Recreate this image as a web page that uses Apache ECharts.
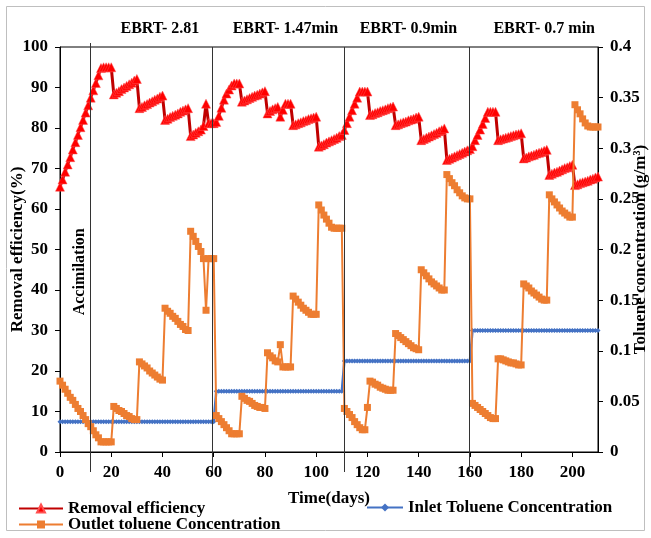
<!DOCTYPE html>
<html>
<head>
<meta charset="utf-8">
<script src="https://cdn.jsdelivr.net/npm/echarts@6/dist/echarts.min.js"></script>
<style>
  html, body { margin: 0; padding: 0; background: #fff; }
  #chart { width: 651px; height: 538px; }
</style>
</head>
<body>
<div id="chart"></div>
<script>
// removal efficiency (%), one value per day, day 0..210
const removalEff = [
  65.5, 67.3, 69.2, 71.0, 72.8, 74.7, 76.5, 78.3, 80.2, 82.0, 83.8, 85.6, 87.5, 89.3, 91.1, 93.0, 94.8, 95.0, 95.0, 95.0, 95.0,
  88.3, 88.7, 89.1, 89.6, 90.0, 90.4, 90.8, 91.2, 91.7, 92.1,
  84.9, 85.2, 85.6, 85.9, 86.3, 86.6, 87.0, 87.3, 87.7, 88.0,
  82.0, 82.3, 82.7, 83.0, 83.3, 83.6, 84.0, 84.3, 84.6, 84.9,
  78.0, 78.4, 78.8, 79.2, 79.6, 80.5, 86.0, 81.2, 81.2, 81.2,
  81.5, 83.0, 85.0, 87.0, 88.5, 89.5, 90.5, 91.0, 91.0, 91.0,
  86.5, 86.8, 87.1, 87.4, 87.7, 88.0, 88.2, 88.5, 88.8, 89.1,
  83.6, 84.2, 84.6, 84.9, 85.2, 82.8, 84.5, 86.0, 86.0, 86.0,
  80.7, 80.9, 81.2, 81.4, 81.7, 81.9, 82.2, 82.4, 82.6, 82.8,
  75.4, 75.7, 76.0, 76.4, 76.7, 77.0, 77.3, 77.6, 78.0, 78.3,
  79.5, 81.2, 82.8, 84.4, 86.0, 87.5, 89.0, 89.0, 89.0, 89.0,
  83.2, 83.4, 83.7, 83.9, 84.2, 84.4, 84.6, 84.9, 85.1, 85.3,
  80.7, 80.9, 81.2, 81.4, 81.6, 81.9, 82.1, 82.3, 82.6, 82.8,
  77.0, 77.3, 77.6, 77.9, 78.2, 78.5, 78.8, 79.2, 79.5, 79.9,
  72.1, 72.4, 72.7, 73.0, 73.3, 73.6, 73.9, 74.2, 74.5, 74.8,
  75.5, 77.0, 78.3, 79.6, 81.0, 82.5, 84.0, 84.0, 84.0, 84.0,
  77.0, 77.2, 77.4, 77.6, 77.8, 78.0, 78.2, 78.4, 78.5, 78.7,
  72.5, 72.7, 73.0, 73.2, 73.4, 73.7, 73.9, 74.1, 74.4, 74.6,
  68.4, 68.7, 69.0, 69.2, 69.5, 69.8, 70.1, 70.3, 70.6, 70.9,
  65.9, 66.1, 66.4, 66.6, 66.8, 67.0, 67.3, 67.5, 67.8, 68.0
]

// inlet toluene (g/m3), day 0..210
const inletConc = [
  0.03, 0.03, 0.03, 0.03, 0.03, 0.03, 0.03, 0.03, 0.03, 0.03, 0.03,
  0.03, 0.03, 0.03, 0.03, 0.03, 0.03, 0.03, 0.03, 0.03, 0.03,
  0.03, 0.03, 0.03, 0.03, 0.03, 0.03, 0.03, 0.03, 0.03, 0.03,
  0.03, 0.03, 0.03, 0.03, 0.03, 0.03, 0.03, 0.03, 0.03, 0.03,
  0.03, 0.03, 0.03, 0.03, 0.03, 0.03, 0.03, 0.03, 0.03, 0.03,
  0.03, 0.03, 0.03, 0.03, 0.03, 0.03, 0.03, 0.03, 0.03, 0.03,
  0.06, 0.06, 0.06, 0.06, 0.06, 0.06, 0.06, 0.06, 0.06, 0.06,
  0.06, 0.06, 0.06, 0.06, 0.06, 0.06, 0.06, 0.06, 0.06, 0.06,
  0.06, 0.06, 0.06, 0.06, 0.06, 0.06, 0.06, 0.06, 0.06, 0.06,
  0.06, 0.06, 0.06, 0.06, 0.06, 0.06, 0.06, 0.06, 0.06, 0.06,
  0.06, 0.06, 0.06, 0.06, 0.06, 0.06, 0.06, 0.06, 0.06, 0.06,
  0.09, 0.09, 0.09, 0.09, 0.09, 0.09, 0.09, 0.09, 0.09, 0.09,
  0.09, 0.09, 0.09, 0.09, 0.09, 0.09, 0.09, 0.09, 0.09, 0.09,
  0.09, 0.09, 0.09, 0.09, 0.09, 0.09, 0.09, 0.09, 0.09, 0.09,
  0.09, 0.09, 0.09, 0.09, 0.09, 0.09, 0.09, 0.09, 0.09, 0.09,
  0.09, 0.09, 0.09, 0.09, 0.09, 0.09, 0.09, 0.09, 0.09, 0.09,
  0.12, 0.12, 0.12, 0.12, 0.12, 0.12, 0.12, 0.12, 0.12, 0.12,
  0.12, 0.12, 0.12, 0.12, 0.12, 0.12, 0.12, 0.12, 0.12, 0.12,
  0.12, 0.12, 0.12, 0.12, 0.12, 0.12, 0.12, 0.12, 0.12, 0.12,
  0.12, 0.12, 0.12, 0.12, 0.12, 0.12, 0.12, 0.12, 0.12, 0.12,
  0.12, 0.12, 0.12, 0.12, 0.12, 0.12, 0.12, 0.12, 0.12, 0.12
]

// outlet toluene (g/m3), day 0..210
const outletConc = [
  0.070, 0.066, 0.062, 0.058, 0.054, 0.051, 0.047, 0.043, 0.040, 0.036, 0.032,
  0.028, 0.025, 0.021, 0.017, 0.014, 0.010, 0.010, 0.010, 0.010, 0.010,
  0.045, 0.043, 0.041, 0.040, 0.038, 0.036, 0.035, 0.033, 0.032, 0.032,
  0.089, 0.087, 0.085, 0.083, 0.080, 0.078, 0.076, 0.074, 0.072, 0.071,
  0.142, 0.139, 0.137, 0.134, 0.132, 0.129, 0.126, 0.124, 0.121, 0.120,
  0.218, 0.213, 0.208, 0.203, 0.198, 0.191, 0.140, 0.191, 0.191, 0.191,
  0.036, 0.033, 0.030, 0.027, 0.024, 0.021, 0.018, 0.018, 0.018, 0.018,
  0.055, 0.053, 0.051, 0.050, 0.048, 0.046, 0.045, 0.044, 0.044, 0.043,
  0.098, 0.095, 0.093, 0.090, 0.089, 0.106, 0.084, 0.084, 0.084, 0.084,
  0.154, 0.151, 0.148, 0.145, 0.142, 0.140, 0.138, 0.136, 0.136, 0.136,
  0.244, 0.239, 0.234, 0.230, 0.226, 0.222, 0.221, 0.221, 0.221, 0.221,
  0.043, 0.040, 0.037, 0.034, 0.030, 0.027, 0.024, 0.022, 0.022, 0.044,
  0.070, 0.069, 0.067, 0.066, 0.064, 0.063, 0.062, 0.061, 0.061, 0.061,
  0.117, 0.115, 0.113, 0.111, 0.109, 0.107, 0.105, 0.103, 0.102, 0.101,
  0.180, 0.177, 0.174, 0.171, 0.168, 0.166, 0.164, 0.162, 0.160, 0.160,
  0.274, 0.270, 0.266, 0.263, 0.259, 0.256, 0.253, 0.251, 0.250, 0.250,
  0.048, 0.046, 0.044, 0.042, 0.040, 0.038, 0.036, 0.034, 0.033, 0.033,
  0.092, 0.092, 0.091, 0.090, 0.089, 0.088, 0.088, 0.087, 0.086, 0.086,
  0.166, 0.164, 0.162, 0.159, 0.157, 0.155, 0.153, 0.151, 0.150, 0.150,
  0.254, 0.250, 0.247, 0.244, 0.241, 0.238, 0.236, 0.234, 0.232, 0.232,
  0.343, 0.338, 0.334, 0.329, 0.325, 0.322, 0.321, 0.321, 0.321, 0.321
]

// phase change days and labels
const phaseLines = [11.7, 59.3, 110.7, 159.5]
const ebrtLabels = ['EBRT- 2.81', 'EBRT- 1.47min', 'EBRT- 0.9min', 'EBRT- 0.7 min']
const ebrtDays = [39, 88, 136, 189]

const FONT = '"Liberation Serif", "Times New Roman", serif'
const txt = { fontFamily: FONT, fontWeight: 'bold', fontSize: 17, color: '#000' }

const days = removalEff.map((_, i) => i)
const pairs = (arr) => days.map((d) => [d, arr[d]])

const chart = echarts.init(document.getElementById('chart'))

const option = {
  animation: false,
  backgroundColor: '#fff',
  grid: {
    left: 60, right: 53, top: 47, bottom: 86,
    containLabel: false,
    outerBoundsMode: 'none',
    show: true, borderColor: '#000', borderWidth: 1
  },
  legend: [
    {
      data: ['Removal efficiency'], left: 18, top: 500, padding: 0,
      itemWidth: 44, itemHeight: 10, itemGap: 0, textStyle: txt
    },
    {
      data: ['Inlet Toluene Concentration'], left: 366, top: 499, padding: 0,
      itemWidth: 36, itemHeight: 10, itemGap: 0, textStyle: txt
    },
    {
      data: ['Outlet toluene Concentration'], left: 18, top: 516, padding: 0,
      itemWidth: 44, itemHeight: 10, itemGap: 0, textStyle: txt
    }
  ],
  xAxis: {
    type: 'value',
    min: 0,
    max: 210,
    interval: 20,
    name: 'Time(days)',
    nameLocation: 'middle',
    nameGap: 38,
    nameMoveOverlap: false,
    nameTextStyle: txt,
    axisLine: { lineStyle: { color: '#000' } },
    axisTick: { lineStyle: { color: '#000' }, length: 5 },
    axisLabel: { ...txt, margin: 12, showMaxLabel: false },
    splitLine: { show: false }
  },
  yAxis: [
    {
      type: 'value',
      min: 0,
      max: 100,
      interval: 10,
      name: 'Removal efficiency(%)',
      nameLocation: 'middle',
      nameRotate: 90,
      nameGap: 34,
      nameMoveOverlap: false,
      nameTextStyle: txt,
      axisLine: { show: true, lineStyle: { color: '#000' } },
      axisTick: { show: true, lineStyle: { color: '#000' }, length: 5 },
      axisLabel: { ...txt, margin: 12 },
      splitLine: { show: false }
    },
    {
      type: 'value',
      min: 0,
      max: 0.4,
      interval: 0.05,
      name: 'Toluene concentration (g/m³)',
      nameLocation: 'middle',
      nameRotate: 90,
      nameGap: 34,
      nameMoveOverlap: false,
      nameTextStyle: txt,
      axisLine: { show: true, lineStyle: { color: '#000' } },
      axisTick: { show: true, lineStyle: { color: '#000' }, length: 5 },
      axisLabel: { ...txt, margin: 12 },
      splitLine: { show: false }
    }
  ],
  series: [
    {
      name: 'Removal efficiency',
      type: 'line',
      yAxisIndex: 0,
      data: pairs(removalEff),
      symbol: 'triangle',
      symbolSize: 9,
      lineStyle: { color: '#C00000', width: 3 },
      itemStyle: { color: '#FF0000', borderColor: '#FF5050', borderWidth: 0.5 },
      z: 3
    },
    {
      name: 'Inlet Toluene Concentration',
      type: 'line',
      yAxisIndex: 1,
      data: pairs(inletConc),
      symbol: 'diamond',
      symbolSize: 5,
      lineStyle: { color: '#4472C4', width: 2.5 },
      itemStyle: { color: '#4472C4' },
      z: 4
    },
    {
      name: 'Outlet toluene Concentration',
      type: 'line',
      yAxisIndex: 1,
      data: pairs(outletConc),
      symbol: 'rect',
      symbolSize: 7,
      lineStyle: { color: '#ED7D31', width: 2 },
      itemStyle: { color: '#ED7D31' },
      z: 5
    }
  ]
}

chart.setOption(option)

// annotations placed through the axis scales
const toPx = (d, v) => chart.convertToPixel({ xAxisIndex: 0, yAxisIndex: 0 }, [d, v])
const graphics = []

graphics.push({
  type: 'rect',
  shape: { x: 6.5, y: 6.5, width: 638, height: 524 },
  style: { fill: null, stroke: '#bfbfbf', lineWidth: 1 },
  silent: true
})

phaseLines.forEach((d, i) => {
  const x = Math.round(toPx(d, 0)[0]) + 0.5
  graphics.push({
    type: 'line',
    shape: { x1: x, y1: i === 0 ? 43 : 47, x2: x, y2: 472 },
    style: { stroke: '#333', lineWidth: 1 },
    silent: true,
    z: 10
  })
})

ebrtLabels.forEach((t, i) => {
  const x = toPx(ebrtDays[i], 0)[0]
  graphics.push({
    type: 'text',
    x: x,
    y: 29,
    style: {
      text: t, fill: '#000', font: 'bold 16px ' + FONT,
      align: 'center', verticalAlign: 'middle'
    },
    silent: true
  })
})

const acc = toPx(7.8, 44.5)
graphics.push({
  type: 'text',
  x: acc[0],
  y: acc[1],
  rotation: Math.PI / 2,
  style: {
    text: 'Accimilation', fill: '#000', font: 'bold 16px ' + FONT,
    align: 'center', verticalAlign: 'middle'
  },
  silent: true,
  z: 10
})

chart.setOption({ graphic: graphics })
</script>
</body>
</html>
